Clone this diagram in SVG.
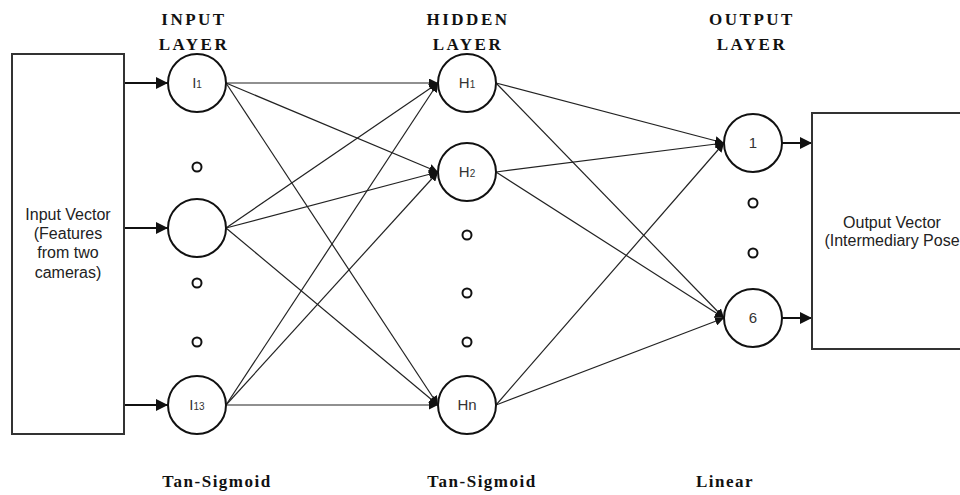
<svg xmlns="http://www.w3.org/2000/svg" width="960" height="495" viewBox="0 0 960 495">
<defs>
<marker id="big" viewBox="0 0 12 12" refX="12" refY="6" markerWidth="12" markerHeight="12" markerUnits="userSpaceOnUse" orient="auto">
<path d="M0,0 L12,6 L0,12 z" fill="#111"/>
</marker>
<marker id="small" viewBox="0 0 10 10" refX="10" refY="5" markerWidth="9" markerHeight="9" markerUnits="userSpaceOnUse" orient="auto">
<path d="M0,0 L10,5 L0,10 z" fill="#111"/>
</marker>
</defs>
<style>
.box{fill:#fff;stroke:#333;stroke-width:2}
.node{fill:#fff;stroke:#111;stroke-width:2}
.dot{fill:#fff;stroke:#111;stroke-width:2}
.lbl{font-family:"Liberation Sans",Arial,sans-serif;font-size:15px;fill:#333;text-anchor:middle}
.sub{font-size:10px}
.txt{font-family:"Liberation Sans",Arial,sans-serif;font-size:16px;fill:#222;text-anchor:middle}
.title{font-family:"Liberation Serif","Times New Roman",serif;font-weight:bold;font-size:17px;letter-spacing:2.5px;fill:#111;text-anchor:middle}
.act{font-family:"Liberation Serif","Times New Roman",serif;font-weight:bold;font-size:17px;letter-spacing:1.5px;fill:#111;text-anchor:middle}
.thick{stroke:#111;stroke-width:2;fill:none}
.thin{stroke:#222;stroke-width:1.2;fill:none}
</style>
<rect width="960" height="495" fill="#fff"/>

<g id="titles">
<text class="title" x="194" y="25">INPUT</text>
<text class="title" x="194" y="50">LAYER</text>
<text class="title" x="468" y="25">HIDDEN</text>
<text class="title" x="468" y="50">LAYER</text>
<text class="title" x="752" y="25">OUTPUT</text>
<text class="title" x="752" y="50">LAYER</text>
<text class="act" x="217" y="487">Tan-Sigmoid</text>
<text class="act" x="482" y="487">Tan-Sigmoid</text>
<text class="act" x="725" y="487">Linear</text>
</g>

<g id="connectors">
<line class="thick" x1="124" y1="83" x2="168" y2="83" marker-end="url(#big)"/>
<line class="thick" x1="124" y1="228" x2="168" y2="228" marker-end="url(#big)"/>
<line class="thick" x1="124" y1="405" x2="168" y2="405" marker-end="url(#big)"/>

<line class="thin" x1="226" y1="83" x2="438" y2="83" marker-end="url(#small)"/>
<line class="thin" x1="226" y1="83" x2="438" y2="172" marker-end="url(#small)"/>
<line class="thin" x1="226" y1="83" x2="438" y2="405" marker-end="url(#small)"/>
<line class="thin" x1="226" y1="228" x2="438" y2="83" marker-end="url(#small)"/>
<line class="thin" x1="226" y1="228" x2="438" y2="172" marker-end="url(#small)"/>
<line class="thin" x1="226" y1="228" x2="438" y2="405" marker-end="url(#small)"/>
<line class="thin" x1="226" y1="405" x2="438" y2="83" marker-end="url(#small)"/>
<line class="thin" x1="226" y1="405" x2="438" y2="172" marker-end="url(#small)"/>
<line class="thin" x1="226" y1="405" x2="438" y2="405" marker-end="url(#small)"/>

<line class="thin" x1="496" y1="83" x2="724" y2="143" marker-end="url(#small)"/>
<line class="thin" x1="496" y1="83" x2="724" y2="318" marker-end="url(#small)"/>
<line class="thin" x1="496" y1="172" x2="724" y2="143" marker-end="url(#small)"/>
<line class="thin" x1="496" y1="172" x2="724" y2="318" marker-end="url(#small)"/>
<line class="thin" x1="496" y1="405" x2="724" y2="143" marker-end="url(#small)"/>
<line class="thin" x1="496" y1="405" x2="724" y2="318" marker-end="url(#small)"/>

<line class="thick" x1="782" y1="143" x2="812" y2="143" marker-end="url(#big)"/>
<line class="thick" x1="782" y1="318" x2="812" y2="318" marker-end="url(#big)"/>
</g>

<g id="input-vector">
<rect class="box" x="12" y="54" width="112" height="380"/>
<text class="txt" x="68" y="220">Input Vector</text>
<text class="txt" x="68" y="239">(Features</text>
<text class="txt" x="68" y="258">from two</text>
<text class="txt" x="68" y="278">cameras)</text>
</g>

<g id="output-vector">
<rect class="box" x="812" y="113" width="152" height="236"/>
<text class="txt" x="892" y="228">Output Vector</text>
<text class="txt" x="892" y="246">(Intermediary Pose</text>
</g>

<g id="I1"><circle class="node" cx="197" cy="83" r="29"/><text class="lbl" x="197" y="88">I<tspan class="sub">1</tspan></text></g>
<g id="I-mid"><circle class="node" cx="197" cy="228" r="29"/></g>
<g id="I13"><circle class="node" cx="197" cy="405" r="29"/><text class="lbl" x="197" y="410">I<tspan class="sub">13</tspan></text></g>
<g id="input-dots">
<circle class="dot" cx="197" cy="167" r="4.5"/>
<circle class="dot" cx="197" cy="283" r="4.5"/>
<circle class="dot" cx="197" cy="342" r="4.5"/>
</g>

<g id="H1"><circle class="node" cx="467" cy="83" r="29"/><text class="lbl" x="467" y="88">H<tspan class="sub">1</tspan></text></g>
<g id="H2"><circle class="node" cx="467" cy="172" r="29"/><text class="lbl" x="467" y="177">H<tspan class="sub">2</tspan></text></g>
<g id="Hn"><circle class="node" cx="467" cy="405" r="29"/><text class="lbl" x="467" y="410">Hn</text></g>
<g id="hidden-dots">
<circle class="dot" cx="467" cy="235" r="4.5"/>
<circle class="dot" cx="467" cy="293" r="4.5"/>
<circle class="dot" cx="467" cy="342" r="4.5"/>
</g>

<g id="O1"><circle class="node" cx="753" cy="143" r="29"/><text class="lbl" x="753" y="148">1</text></g>
<g id="O6"><circle class="node" cx="753" cy="318" r="29"/><text class="lbl" x="753" y="323">6</text></g>
<g id="output-dots">
<circle class="dot" cx="753" cy="203" r="4.5"/>
<circle class="dot" cx="753" cy="253" r="4.5"/>
</g>
</svg>
